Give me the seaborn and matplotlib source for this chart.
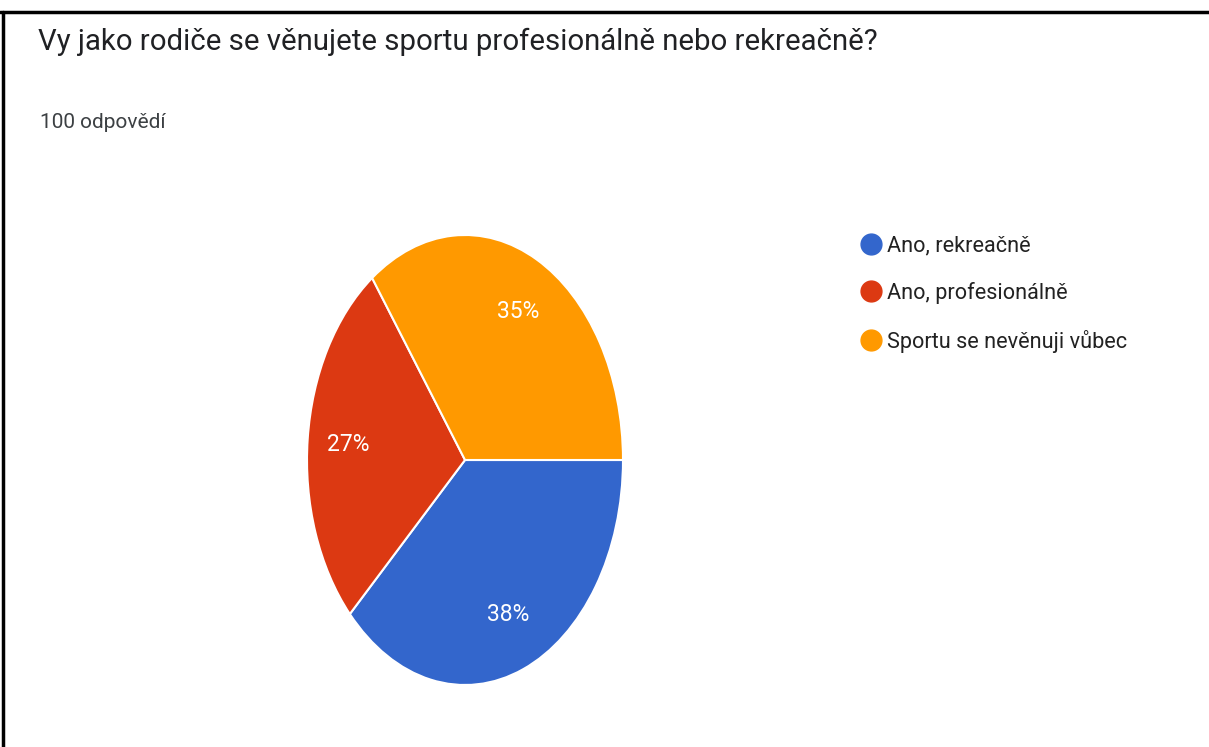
import matplotlib
matplotlib.use('Agg')
import matplotlib.pyplot as plt
import seaborn as sns
from matplotlib.lines import Line2D

# data
categories = ['Ano, rekreačně', 'Ano, profesionálně', 'Sportu se nevěnuji vůbec']
shares = [38, 27, 35]
colors = ['#3366CC', '#DC3912', '#FF9900']

title = 'Vy jako rodiče se věnujete sportu profesionálně nebo rekreačně?'
subtitle = '100 odpovědí'

sns.set_theme(style='white')
plt.rcParams['font.family'] = ['Roboto', 'DejaVu Sans']

W, H = 1209, 747
fig = plt.figure(figsize=(W / 100, H / 100), dpi=100)
fig.patch.set_facecolor('white')

# frame lines (top and left only, like the screenshot crop)
fig.add_artist(Line2D([0, 1], [1 - 12 / H, 1 - 12 / H], color='black', lw=2.5))
fig.add_artist(Line2D([3 / W, 3 / W], [0, 1 - 12 / H], color='black', lw=2.5))

fig.text(38 / W, 1 - 42 / H, title, fontsize=21.2, color='#202124', va='center', ha='left')
fig.text(40 / W, 1 - 122 / H, subtitle, fontsize=15, color='#3c4043', va='center', ha='left')

# pie, stretched vertically like the reference
cx, cy, rx, ry = 465, 460, 158, 225
ax = fig.add_axes([(cx - rx) / W, (H - cy - ry) / H, 2 * rx / W, 2 * ry / H])
wedges, texts, autotexts = ax.pie(
    shares, colors=colors, startangle=0, counterclock=False,
    autopct='%1.0f%%', pctdistance=0.74,
    wedgeprops=dict(edgecolor='white', linewidth=1.5),
    textprops=dict(color='white', fontsize=16.5))
ax.set_aspect('auto')
ax.set_xlim(-1, 1)
ax.set_ylim(-1, 1)
ax.axis('off')

handles = [Line2D([], [], marker='o', linestyle='none', markersize=15,
                  markerfacecolor=c, markeredgecolor=c) for c in colors]
fig.legend(handles, categories, loc='upper left',
           bbox_to_anchor=(838 / W, 1 - 216 / H), frameon=False,
           fontsize=15.6, handletextpad=0.15, labelspacing=1.18,
           handlelength=1.2, labelcolor='#222222')

fig.savefig('out.png', dpi=100, facecolor='white')
